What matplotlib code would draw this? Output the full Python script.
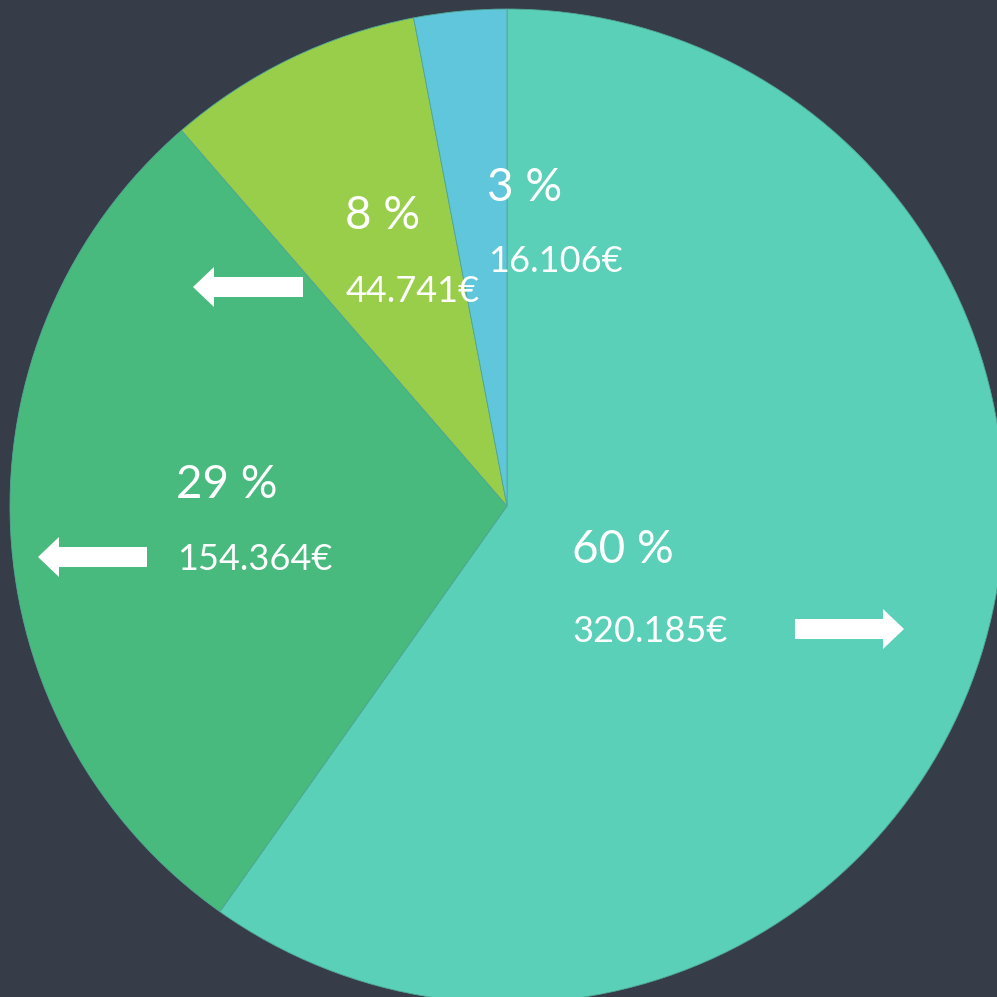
import matplotlib
matplotlib.use("Agg")
import matplotlib.pyplot as plt
from matplotlib.patches import FancyArrow

categories = ["A", "B", "C", "D"]
values = [320185, 154364, 44741, 16106]
pct_labels = ["60 %", "29 %", "8 %", "3 %"]
value_labels = ["320.185€", "154.364€", "44.741€", "16.106€"]
colors = ["#5bd0b8", "#48ba7d", "#99ce4b", "#60c6db"]
bg = "#363c48"

W = H = 997
fig = plt.figure(figsize=(9.97, 9.97), dpi=100, facecolor=bg)
ax = fig.add_axes([0, 0, 1, 1])
ax.set_facecolor(bg)

cx, cy, r = 507, H - 506, 497
wedges, _ = ax.pie(values, colors=colors, startangle=90, counterclock=False,
                   center=(cx, cy), radius=r, frame=True,
                   wedgeprops=dict(linewidth=0.6, edgecolor="#50a896"))
ax.set_xlim(0, W)
ax.set_ylim(0, H)
ax.set_aspect("equal")
ax.axis("off")

font = "Lato"
# label positions (left x, center y in pixel coords from top)
pct_pos = [(572, 550), (176, 485), (345, 216), (487, 188)]
val_pos = [(572, 631), (177, 560), (346, 292), (488, 262)]
for (x, y), t in zip(pct_pos, pct_labels):
    ax.text(x, H - y, t, color="white", fontsize=33, family=font,
            fontweight="normal", ha="left", va="center")
for (x, y), t in zip(val_pos, value_labels):
    ax.text(x, H - y, t, color="white", fontsize=26, family=font,
            fontweight="normal", ha="left", va="center")

# decorative arrows: (tail x, y, dx)
arrows = [(795, 629, 109), (147, 557, -109), (303, 287, -110)]
for x, y, dx in arrows:
    ax.add_patch(FancyArrow(x, H - y, dx, 0, width=20, head_width=40,
                            head_length=21, length_includes_head=True,
                            color="white", linewidth=0))

fig.savefig("out.png", dpi=100, facecolor=bg)
